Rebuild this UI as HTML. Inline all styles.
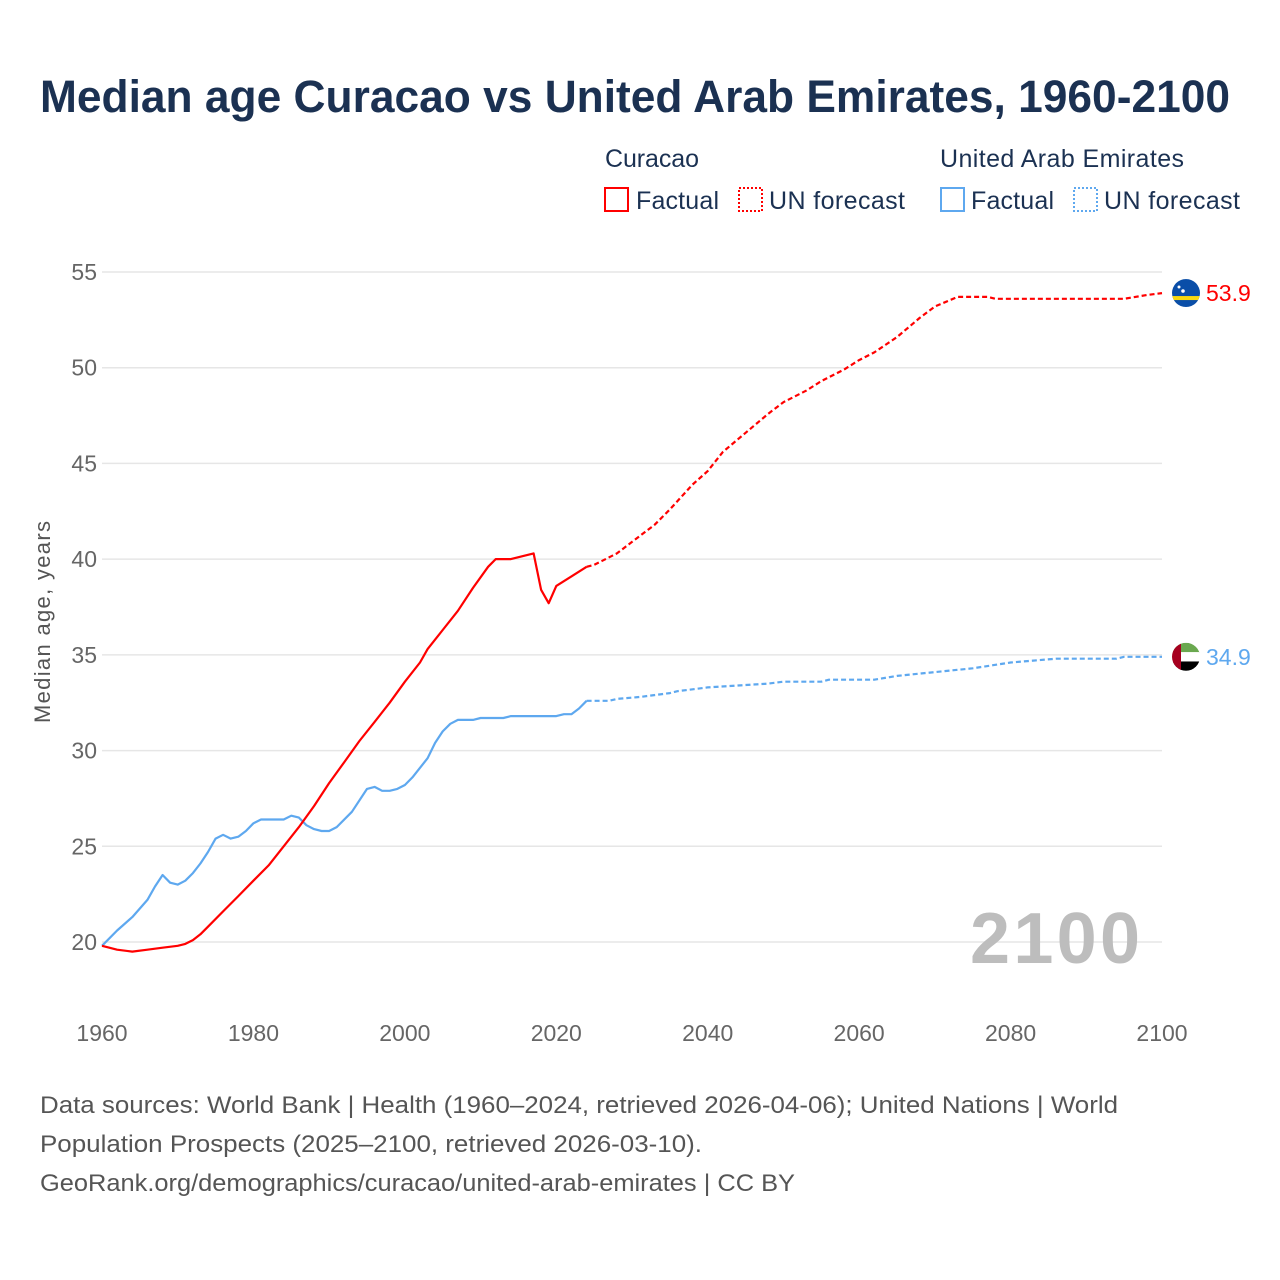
<!DOCTYPE html>
<html><head><meta charset="utf-8">
<style>
body{margin:0;background:#fff;font-family:"Liberation Sans",sans-serif;}
#wrap{position:relative;width:1280px;height:1280px;overflow:hidden;}
</style></head>
<body>
<div id="wrap">
<svg id="chart" width="1280" height="1280" viewBox="0 0 1280 1280">
<text x="40" y="112" font-size="45" font-weight="bold" fill="#1b3152" textLength="1190" lengthAdjust="spacingAndGlyphs">Median age Curacao vs United Arab Emirates, 1960-2100</text>
<g font-size="25" fill="#1b3152">
<text x="605" y="167" textLength="94">Curacao</text>
<rect x="605" y="188" width="23" height="23" fill="none" stroke="#ff0000" stroke-width="2"/>
<text x="636" y="209" textLength="83">Factual</text>
<rect x="739" y="188" width="23" height="23" fill="none" stroke="#ff0000" stroke-width="2" stroke-dasharray="2 2"/>
<text x="769" y="209" textLength="136">UN forecast</text>
<text x="940" y="167" textLength="244">United Arab Emirates</text>
<rect x="941" y="188" width="23" height="23" fill="none" stroke="#5ea8ef" stroke-width="2"/>
<text x="971" y="209" textLength="83">Factual</text>
<rect x="1074" y="188" width="23" height="23" fill="none" stroke="#5ea8ef" stroke-width="2" stroke-dasharray="2 2"/>
<text x="1104" y="209" textLength="136">UN forecast</text>
</g>
<g id="grid"></g>
<g id="axes"></g>
<text x="1140" y="963" font-size="72" font-weight="bold" fill="#bdbdbd" text-anchor="end" textLength="170">2100</text>
<text transform="translate(50,622) rotate(-90)" font-size="22" fill="#555" text-anchor="middle" textLength="202">Median age, years</text>
<g id="series"></g>
<g font-size="24" fill="#555">
<text x="40" y="1113" textLength="1078" lengthAdjust="spacingAndGlyphs">Data sources: World Bank | Health (1960–2024, retrieved 2026-04-06); United Nations | World</text>
<text x="40" y="1152" textLength="662" lengthAdjust="spacingAndGlyphs">Population Prospects (2025–2100, retrieved 2026-03-10).</text>
<text x="40" y="1191" textLength="755" lengthAdjust="spacingAndGlyphs">GeoRank.org/demographics/curacao/united-arab-emirates | CC BY</text>
</g>
</svg>
</div>
<script>
const yTicks = [20, 25, 30, 35, 40, 45, 50, 55];
const xTicks = [1960, 1980, 2000, 2020, 2040, 2060, 2080, 2100];
const curFactYears = [1960,1962,1964,1966,1968,1970,1971,1972,1973,1974,1976,1978,1980,1982,1984,1986,1988,1990,1992,1994,1996,1998,2000,2002,2003,2005,2007,2009,2011,2012,2014,2017,2018,2019,2020,2022,2024];
const curFactVals = [19.8,19.6,19.5,19.6,19.7,19.8,19.9,20.1,20.4,20.8,21.6,22.4,23.2,24.0,25.0,26.0,27.1,28.3,29.4,30.5,31.5,32.5,33.6,34.6,35.3,36.3,37.3,38.5,39.6,40.0,40.0,40.3,38.4,37.7,38.6,39.1,39.6];
const curFcYears = [2024,2025,2028,2030,2033,2035,2038,2040,2042,2045,2048,2050,2053,2055,2058,2060,2062,2065,2068,2070,2073,2077,2078,2095,2098,2100];
const curFcVals = [39.6,39.7,40.3,40.9,41.8,42.6,43.9,44.6,45.6,46.6,47.6,48.2,48.8,49.3,49.9,50.4,50.8,51.6,52.6,53.2,53.7,53.7,53.6,53.6,53.8,53.9];
const uaeFactYears = [1960,1962,1964,1966,1967,1968,1969,1970,1971,1972,1973,1974,1975,1976,1977,1978,1979,1980,1981,1984,1985,1986,1987,1988,1989,1990,1991,1993,1995,1996,1997,1998,1999,2000,2001,2003,2004,2005,2006,2007,2009,2010,2013,2014,2020,2021,2022,2023,2024];
const uaeFactVals = [19.8,20.6,21.3,22.2,22.9,23.5,23.1,23.0,23.2,23.6,24.1,24.7,25.4,25.6,25.4,25.5,25.8,26.2,26.4,26.4,26.6,26.5,26.1,25.9,25.8,25.8,26.0,26.8,28.0,28.1,27.9,27.9,28.0,28.2,28.6,29.6,30.4,31.0,31.4,31.6,31.6,31.7,31.7,31.8,31.8,31.9,31.9,32.2,32.6];
const uaeFcYears = [2024,2027,2028,2031,2035,2036,2040,2044,2048,2050,2055,2056,2062,2065,2070,2075,2080,2083,2086,2094,2095,2100];
const uaeFcVals = [32.6,32.6,32.7,32.8,33.0,33.1,33.3,33.4,33.5,33.6,33.6,33.7,33.7,33.9,34.1,34.3,34.6,34.7,34.8,34.8,34.9,34.9];

const NS = 'http://www.w3.org/2000/svg';
const X0 = 102, X1 = 1162, Y0 = 942, Y1 = 272;
function xs(v){ return X0 + (v - 1960) / 140 * (X1 - X0); }
function ys(v){ return Y0 - (v - 20) / 35 * (Y0 - Y1); }
function mk(tag, attrs, parent){ const e = document.createElementNS(NS, tag); for (const k in attrs) e.setAttribute(k, attrs[k]); parent.appendChild(e); return e; }
const grid = document.getElementById('grid'), axes = document.getElementById('axes'), series = document.getElementById('series');
yTicks.forEach(t => {
  const l = mk('line', {x1: X0, x2: X1, y1: ys(t), y2: ys(t), stroke: '#e6e6e6', 'stroke-width': 1.5}, grid);
  
  
  const tx = mk('text', {x: 97, y: ys(t) + 8, 'font-size': 23, fill: '#666', 'text-anchor': 'end'}, axes);
  tx.textContent = t;
  
  
});
xTicks.forEach(t => {
  const tx = mk('text', {x: xs(t), y: 1041, 'font-size': 23, fill: '#666', 'text-anchor': 'middle'}, axes);
  tx.textContent = t;
  
  
});
function line(yrs, vals, color, dash, name){
  const d = yrs.map((y, i) => (i ? 'L' : 'M') + xs(y).toFixed(1) + ',' + ys(vals[i]).toFixed(1)).join('');
  const p = mk('path', {d: d, fill: 'none', stroke: color, 'stroke-width': 2.2, 'stroke-linejoin': 'round'}, series);
  if (dash) p.setAttribute('stroke-dasharray', '5 3');
  
  
}
line(uaeFactYears, uaeFactVals, '#5ea8ef', false, 'uae-factual-line');
line(uaeFcYears, uaeFcVals, '#5ea8ef', true, 'uae-forecast-line');
line(curFactYears, curFactVals, '#ff0000', false, 'curacao-factual-line');
line(curFcYears, curFcVals, '#ff0000', true, 'curacao-forecast-line');

const cv = curFcVals[curFcVals.length - 1], uv = uaeFcVals[uaeFcVals.length - 1];
const cy = ys(cv), uy = ys(uv), fx = 1186;
const defs = mk('defs', {}, series);
const cp1 = mk('clipPath', {id: 'c1'}, defs); mk('circle', {cx: fx, cy: cy, r: 14}, cp1);
const cp2 = mk('clipPath', {id: 'c2'}, defs); mk('circle', {cx: fx, cy: uy, r: 14}, cp2);
const g1 = mk('g', {'clip-path': 'url(#c1)'}, series);


mk('rect', {x: fx - 14, y: cy - 14, width: 28, height: 28, fill: '#0a4ea8'}, g1);
mk('rect', {x: fx - 14, y: cy + 3, width: 28, height: 4, fill: '#f9d90f'}, g1);
mk('circle', {cx: fx - 7, cy: cy - 6, r: 1.5, fill: '#fff'}, g1);
mk('circle', {cx: fx - 3, cy: cy - 2, r: 1.8, fill: '#fff'}, g1);
const g2 = mk('g', {'clip-path': 'url(#c2)'}, series);


mk('rect', {x: fx - 14, y: uy - 14, width: 28, height: 10, fill: '#6aa84f'}, g2);
mk('rect', {x: fx - 14, y: uy - 4.7, width: 28, height: 9.4, fill: '#fff'}, g2);
mk('rect', {x: fx - 14, y: uy + 4.7, width: 28, height: 10, fill: '#000'}, g2);
mk('rect', {x: fx - 14, y: uy - 14, width: 9, height: 28, fill: '#a6001f'}, g2);
const l1 = mk('text', {x: 1206, y: cy + 8, 'font-size': 23, fill: '#ff0000'}, series);
l1.textContent = cv.toFixed(1);


const l2 = mk('text', {x: 1206, y: uy + 8, 'font-size': 23, fill: '#5ea8ef'}, series);
l2.textContent = uv.toFixed(1);


</script>
</body></html>
